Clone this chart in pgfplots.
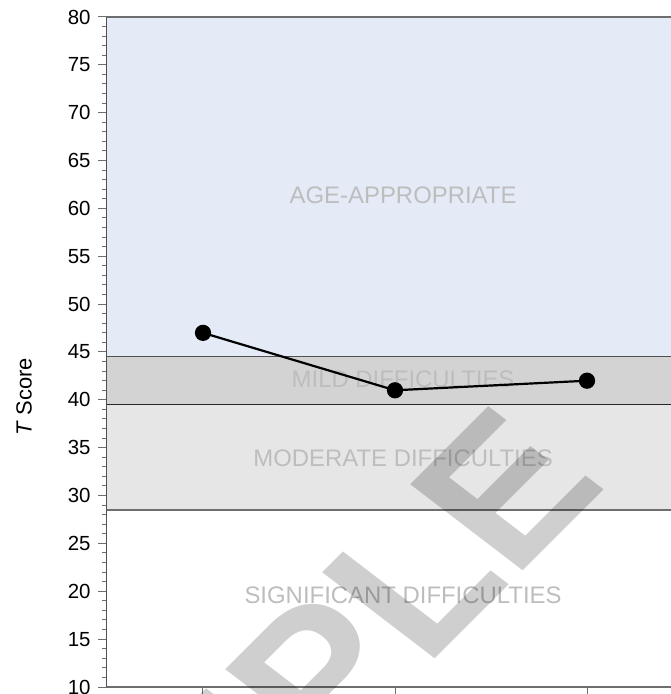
\documentclass[border=0pt]{standalone}
\usepackage{fontspec}
\setmainfont{Liberation Sans}
\usepackage{pgfplots}
\pgfplotsset{compat=1.18}
\definecolor{bandblue}{HTML}{E4EAF6}
\definecolor{bandmild}{HTML}{D3D3D4}
\definecolor{bandmod}{HTML}{E6E6E7}
\definecolor{labgray}{HTML}{BDBDBD}
\definecolor{axgray}{HTML}{6E6E6E}
\definecolor{axdark}{HTML}{505050}
\begin{document}
\begin{tikzpicture}
\path[use as bounding box] (-107bp,-7bp) rectangle (564bp,687bp);
\begin{axis}[
  at={(0,0)}, anchor=south west,
  scale only axis, width=564bp, height=670bp,
  xmin=0.5, xmax=3.4375, ymin=10, ymax=80,
  clip=false, axis on top=true,
  axis x line*=bottom, axis y line*=left,
  x axis line style={draw=axgray, line width=1.6bp},
  y axis line style={draw=axdark, line width=1bp},
  xtick={1,2,3}, xticklabels={},
  ytick={10,15,...,80}, minor y tick num=4,
  tick align=outside, major tick length=9bp, minor tick length=4.5bp,
  every tick/.style={draw=axgray, line width=1bp},
  yticklabel style={font=\fontsize{20.5}{24}\selectfont, text=black, xshift=-4bp},
  /pgf/number format/assume math mode=true,
  ylabel={\textit{T} Score},
  every axis y label/.style={at={(rel axis cs:0,0.433)}, xshift=-83bp, rotate=90, anchor=center, font=\fontsize{22}{26}\selectfont},
]
\addplot[draw=none, fill=bandblue, forget plot] coordinates {(0.5,44.5) (3.4375,44.5) (3.4375,80) (0.5,80)} -- cycle;
\addplot[draw=none, fill=bandmild, forget plot] coordinates {(0.5,39.5) (3.4375,39.5) (3.4375,44.5) (0.5,44.5)} -- cycle;
\addplot[draw=none, fill=bandmod, forget plot] coordinates {(0.5,28.5) (3.4375,28.5) (3.4375,39.5) (0.5,39.5)} -- cycle;
\addplot[draw=axdark, line width=1bp, forget plot] coordinates {(0.5,44.5) (3.4375,44.5)};
\addplot[draw=black!85, line width=1bp, forget plot] coordinates {(0.5,39.5) (3.4375,39.5)};
\addplot[draw=axgray, line width=1.4bp, forget plot] coordinates {(0.5,28.5) (3.4375,28.5)};
\draw[axgray, line width=1.8bp] (rel axis cs:0,1) -- (rel axis cs:1,1);
\node[text=labgray, font=\fontsize{24}{28}\selectfont] at (axis cs:2.042,61.35) {AGE-APPROPRIATE};
\node[text=labgray, font=\fontsize{24}{28}\selectfont] at (axis cs:2.042,42.13) {MILD DIFFICULTIES};
\node[text=labgray, font=\fontsize{24}{28}\selectfont] at (axis cs:2.042,33.92) {MODERATE DIFFICULTIES};
\node[text=labgray, font=\fontsize{24}{28}\selectfont] at (axis cs:2.042,19.58) {SIGNIFICANT DIFFICULTIES};
\addplot[black, line width=2.2bp, mark=*, mark size=7bp, mark options={fill=black, solid}] coordinates {(1,47) (2,41) (3,42)};
\end{axis}
\node[anchor=base west, rotate=45, xslant=-0.133, inner sep=0pt, text=black, opacity=0.19, font=\fontsize{205}{210}\selectfont\bfseries] at (-99.3bp,-399.3bp) {SAMPLE};
\end{tikzpicture}
\end{document}
